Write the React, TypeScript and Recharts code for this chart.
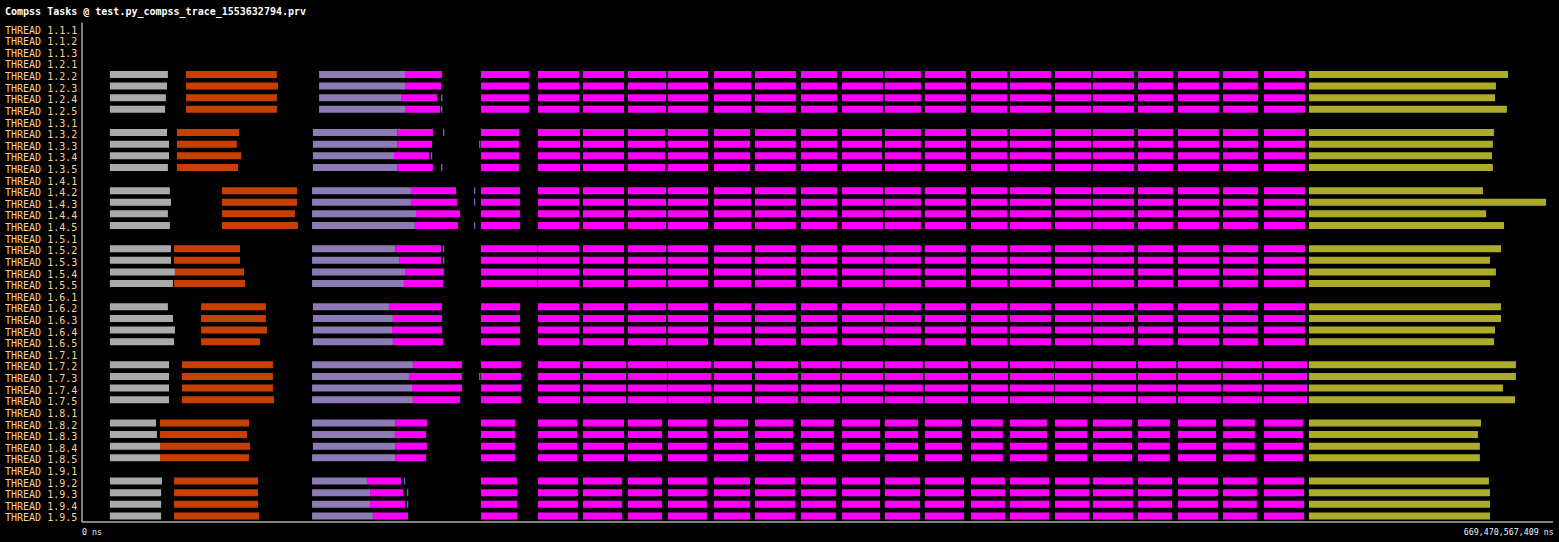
import { Bar, BarChart, Cell, XAxis, YAxis } from "recharts";

// Paraver-style timeline of COMPSs task states, one row per thread.
// Times are in seconds from the trace start.

const TITLE = "Compss Tasks @ test.py_compss_trace_1553632794.prv";
const TRACE_END_S = 669.470567409;
const AXIS_LABELS = ["0 ns", "669,470,567,409 ns"];

const THREADS = [
  "1.1.1", "1.1.2", "1.1.3",
  "1.2.1", "1.2.2", "1.2.3", "1.2.4", "1.2.5",
  "1.3.1", "1.3.2", "1.3.3", "1.3.4", "1.3.5",
  "1.4.1", "1.4.2", "1.4.3", "1.4.4", "1.4.5",
  "1.5.1", "1.5.2", "1.5.3", "1.5.4", "1.5.5",
  "1.6.1", "1.6.2", "1.6.3", "1.6.4", "1.6.5",
  "1.7.1", "1.7.2", "1.7.3", "1.7.4", "1.7.5",
  "1.8.1", "1.8.2", "1.8.3", "1.8.4", "1.8.5",
  "1.9.1", "1.9.2", "1.9.3", "1.9.4", "1.9.5",
];

// worker threads that actually ran tasks (4 per node)
const ACTIVE_THREADS = [
  "1.2.2", "1.2.3", "1.2.4", "1.2.5",
  "1.3.2", "1.3.3", "1.3.4", "1.3.5",
  "1.4.2", "1.4.3", "1.4.4", "1.4.5",
  "1.5.2", "1.5.3", "1.5.4", "1.5.5",
  "1.6.2", "1.6.3", "1.6.4", "1.6.5",
  "1.7.2", "1.7.3", "1.7.4", "1.7.5",
  "1.8.2", "1.8.3", "1.8.4", "1.8.5",
  "1.9.2", "1.9.3", "1.9.4", "1.9.5",
];

const GRAY_START = 12.7;
const GRAY_END = [
  39.1, 38.7, 38.2, 37.8,
  38.7, 39.6, 39.6, 39.1,
  40.0, 40.5, 39.1, 40.0,
  40.5, 40.5, 42.3, 41.4,
  39.1, 41.4, 42.3, 41.9,
  39.6, 39.6, 39.6, 39.6,
  33.7, 34.1, 35.5, 35.5,
  36.4, 36.0, 36.0, 36.0,
];

const ORANGE_START = [
  47.3, 47.3, 47.3, 47.3,
  43.2, 43.2, 43.2, 43.2,
  63.7, 63.7, 63.7, 63.7,
  41.9, 41.9, 42.3, 41.9,
  54.2, 54.2, 54.2, 54.2,
  45.5, 45.5, 45.5, 45.5,
  35.5, 35.5, 35.5, 35.5,
  41.9, 41.9, 41.9, 41.9,
];
const ORANGE_END = [
  88.7, 89.2, 88.7, 88.7,
  71.5, 70.5, 72.4, 71.0,
  97.9, 97.9, 96.9, 98.3,
  71.9, 71.9, 73.7, 74.2,
  83.7, 83.7, 84.2, 81.0,
  86.9, 86.9, 86.9, 87.4,
  76.0, 75.1, 76.5, 76.0,
  80.1, 80.1, 80.1, 80.6,
];

const PURPLE_START = [
  107.9, 107.9, 107.9, 107.9,
  105.1, 105.1, 105.1, 105.1,
  104.7, 104.7, 104.7, 104.7,
  104.7, 104.7, 104.7, 104.7,
  105.1, 105.1, 105.1, 105.1,
  104.7, 104.7, 104.7, 104.7,
  104.7, 104.7, 105.1, 104.7,
  104.7, 104.7, 104.7, 104.7,
];
const PURPLE_END = [
  147.0, 147.0, 145.2, 147.0,
  143.4, 143.4, 142.0, 143.4,
  149.7, 149.7, 152.0, 151.5,
  142.5, 144.3, 147.0, 146.5,
  139.7, 141.5, 141.1, 141.5,
  150.6, 148.8, 150.2, 150.6,
  142.5, 142.5, 142.5, 142.5,
  129.7, 131.1, 131.1, 132.4,
];

// first magenta task, running straight after the purple one
const SETUP_END = [
  163.8, 163.4, 161.6, 162.9,
  159.7, 159.3, 157.9, 159.7,
  170.2, 170.7, 172.0, 171.1,
  163.4, 163.4, 164.7, 164.3,
  163.8, 163.8, 163.8, 164.3,
  172.9, 172.9, 172.9, 172.0,
  157.0, 156.6, 157.0, 156.6,
  145.2, 146.1, 147.0, 148.4,
];

// short blue event after the first task (null = none seen)
const TICK_AT = [
  null, null, 163.4, 163.4,
  164.3, 180.7, 158.8, 163.4,
  178.4, 178.4, null, 178.4,
  164.3, 164.3, null, null,
  null, null, null, null,
  null, 180.7, null, null,
  null, null, null, null,
  146.5, 147.9, 147.9, null,
];

// waves of magenta tasks, same start on every node
const WAVE_START = [
  181.6, 207.5, 228.0, 248.5, 266.7, 287.6, 306.3, 327.2, 345.9, 365.4,
  383.6, 404.6, 422.3, 442.8, 460.1, 480.6, 498.8, 519.3, 537.9,
];
const WAVE_END_N2 = [
  203.4, 226.2, 246.7, 265.8, 284.9, 304.5, 324.9, 343.6, 364.5, 381.8,
  402.3, 421.0, 441.0, 459.2, 478.8, 496.5, 517.4, 535.2, 556.6,
];
const WAVE_END_N3 = [
  198.9, 226.6, 246.7, 265.3, 284.9, 304.0, 324.9, 343.6, 364.1, 381.8,
  402.3, 421.0, 441.0, 459.2, 478.8, 496.5, 517.4, 535.2, 556.6,
];
const WAVE_END_N4 = [
  199.3, 226.2, 246.7, 265.8, 284.9, 304.5, 324.9, 343.6, 364.5, 381.8,
  402.3, 421.0, 441.0, 459.2, 478.8, 496.5, 517.4, 535.2, 556.6,
];
const WAVE_END_N5 = [
  207.1, 226.2, 246.7, 265.8, 284.9, 304.5, 324.9, 343.6, 364.5, 381.8,
  402.3, 421.0, 441.0, 459.2, 478.8, 496.5, 517.4, 535.2, 556.6,
];
const WAVE_END_N6 = [
  199.3, 226.2, 246.7, 265.8, 284.9, 304.5, 324.9, 343.6, 364.5, 381.8,
  402.3, 421.0, 441.0, 459.2, 478.8, 496.5, 517.4, 535.2, 556.6,
];
const WAVE_END_N7 = [
  199.8, 226.6, 247.6, 266.2, 286.3, 304.9, 325.9, 345.0, 364.5, 382.7,
  403.2, 421.4, 442.4, 459.2, 479.7, 497.9, 518.4, 537.0, 557.5,
];
const WAVE_END_N8 = [
  197.1, 225.3, 246.7, 264.0, 284.4, 303.1, 323.6, 342.2, 363.2, 380.5,
  400.5, 419.1, 439.2, 457.4, 477.9, 495.1, 516.1, 533.8, 555.7,
];
const WAVE_END_N9 = [
  198.0, 225.7, 245.8, 264.0, 284.4, 304.0, 324.5, 343.1, 363.2, 381.4,
  401.4, 420.1, 440.1, 458.3, 478.3, 496.1, 517.0, 534.7, 556.2,
];
const WAVE_END = [
  WAVE_END_N2, WAVE_END_N3, WAVE_END_N4, WAVE_END_N5,
  WAVE_END_N6, WAVE_END_N7, WAVE_END_N8, WAVE_END_N9,
];

const OLIVE_START = 558.4;
const OLIVE_END = [
  649.0, 643.5, 643.1, 648.5,
  642.6, 642.1, 641.7, 642.1,
  637.6, 666.3, 639.0, 647.2,
  645.8, 640.8, 643.5, 640.8,
  645.8, 645.8, 643.1, 642.6,
  652.6, 652.6, 646.7, 652.2,
  636.7, 635.3, 636.2, 636.2,
  640.3, 640.8, 640.8, 640.8,
];

const STATE_COLOR: Record<string, string> = {
  gray: "#aaaaaa",
  orange: "#c84000",
  purple: "#8c7bb4",
  magenta: "#ff00ff",
  tick: "#5f6cb8",
  olive: "#acac2a",
};

const MONO = "'DejaVu Sans Mono', monospace";
const LABEL_COLOR = "#ffd090";

type Seg = [number, number, string];

function rowSegments(i: number): Seg[] {
  const node = Math.floor(i / 4);
  const segs: Seg[] = [
    [GRAY_START, GRAY_END[i], "gray"],
    [ORANGE_START[i], ORANGE_END[i], "orange"],
    [PURPLE_START[i], PURPLE_END[i], "purple"],
    [PURPLE_END[i], SETUP_END[i], "magenta"],
  ];
  const tick = TICK_AT[i];
  if (tick !== null) segs.push([tick, tick + 0.6, "tick"]);
  WAVE_START.forEach((s, k) => segs.push([s, WAVE_END[node][k], "magenta"]));
  segs.push([OLIVE_START, OLIVE_END[i], "olive"]);
  return segs;
}

const SEG_COUNT = 5 + WAVE_START.length + 1;

// stacked table: transparent gap, then the state's duration, repeated
const rows = THREADS.map((name) => {
  const i = ACTIVE_THREADS.indexOf(name);
  const segs = i >= 0 ? rowSegments(i) : [];
  const row: Record<string, any> = { name };
  let cursor = 0;
  for (let k = 0; k < SEG_COUNT; k++) {
    const seg = segs[k];
    if (seg) {
      row[`gap${k}`] = Math.max(0, seg[0] - cursor);
      row[`dur${k}`] = seg[1] - seg[0];
      row[`state${k}`] = seg[2];
      cursor = seg[1];
    } else {
      row[`gap${k}`] = 0;
      row[`dur${k}`] = 0;
      row[`state${k}`] = "gray";
    }
  }
  return row;
});

function ThreadTick(props: any) {
  const { y, payload } = props;
  return (
    <text x={5} y={y + 5.3} fill={LABEL_COLOR} fontFamily={MONO} fontSize={10}>
      THREAD {payload.value}
    </text>
  );
}

function TimeTick(props: any) {
  const { x, index } = props;
  return (
    <text
      x={index === 0 ? x : x + 0.7}
      y={535}
      fill="#e8f0ff"
      fontFamily={MONO}
      fontSize={8.3}
      textAnchor={index === 0 ? "start" : "end"}
    >
      {AXIS_LABELS[index]}
    </text>
  );
}

export default function App() {
  const bars = [];
  for (let k = 0; k < SEG_COUNT; k++) {
    bars.push(
      <Bar key={`g${k}`} dataKey={`gap${k}`} stackId="t" fill="none" isAnimationActive={false} />
    );
    bars.push(
      <Bar key={`d${k}`} dataKey={`dur${k}`} stackId="t" isAnimationActive={false}>
        {rows.map((r) => (
          <Cell key={r.name} fill={STATE_COLOR[r[`state${k}`]]} />
        ))}
      </Bar>
    );
  }

  return (
    <div style={{ position: "relative", width: 1559, height: 542, background: "#000" }}>
      <style>{`body{margin:0;background:#000}`}</style>
      <div
        style={{
          position: "absolute",
          left: 5,
          top: 5.5,
          fontFamily: MONO,
          fontSize: 10,
          lineHeight: "12px",
          fontWeight: "bold",
          color: "#fff",
          whiteSpace: "pre",
        }}
      >
        {TITLE}
      </div>
      <BarChart
        width={1559}
        height={542}
        data={rows}
        layout="vertical"
        margin={{ top: 22.5, right: 6, bottom: 0, left: 0 }}
        barSize={7}
        barCategoryGap={0}
      >
        <XAxis
          type="number"
          domain={[0, TRACE_END_S]}
          ticks={[0, TRACE_END_S]}
          height={20}
          axisLine={{ stroke: "#fff" }}
          tickLine={false}
          tick={<TimeTick />}
          interval={0}
        />
        <YAxis
          type="category"
          dataKey="name"
          width={82}
          axisLine={{ stroke: "#fff" }}
          tickLine={false}
          tick={<ThreadTick />}
          interval={0}
        />
        {bars}
      </BarChart>
    </div>
  );
}
